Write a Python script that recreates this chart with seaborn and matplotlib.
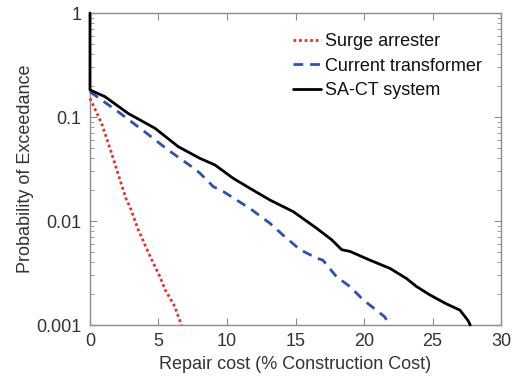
import matplotlib
matplotlib.use("Agg")
import matplotlib.pyplot as plt
import matplotlib.ticker as mticker
import numpy as np
import pandas as pd
import seaborn as sns

# Exceedance curves: repair cost (% construction cost) vs probability
sa_cost = [0.0, 0.85, 1.58, 2.19, 2.67, 2.92, 3.53, 4.38, 5.11, 5.47, 6.2, 6.45, 6.69]
sa_prob = [0.151, 0.087, 0.0447, 0.0248, 0.0159, 0.0137, 0.0082, 0.0046, 0.0029, 0.0022, 0.0015, 0.0012, 0.001]

ct_cost = [0.0, 2.07, 4.0, 5.72, 7.42, 8.03, 9.0, 9.73, 11.68, 12.65, 13.14, 14.1, 15.33,
           16.55, 17.0, 18.0, 18.98, 19.95, 20.9, 21.5, 21.9]
ct_prob = [0.175, 0.112, 0.072, 0.048, 0.0333, 0.0288, 0.0214, 0.0192, 0.0132, 0.0106, 0.0095,
           0.0073, 0.0053, 0.0044, 0.0042, 0.0029, 0.00234, 0.00174, 0.00139, 0.0012, 0.001]

sys_cost = [0.0, 0.0, 1.09, 2.8, 4.74, 6.45, 8.03, 9.12, 10.46, 11.68, 13.14, 14.84, 16.55,
            17.64, 18.37, 18.98, 20.44, 21.9, 23.1, 23.84, 24.8, 26.0, 27.0, 27.6, 27.75]
sys_prob = [1.0, 0.182, 0.157, 0.108, 0.078, 0.0518, 0.040, 0.0346, 0.0257, 0.0206, 0.0159,
            0.0123, 0.0085, 0.0066, 0.0053, 0.0051, 0.0042, 0.0035, 0.0028, 0.00234, 0.00195,
            0.0016, 0.00139, 0.0011, 0.001]

labels = ["Surge arrester", "Current transformer", "SA-CT system"]

sns.set_style("ticks")
plt.rcParams["font.family"] = ["Liberation Sans", "DejaVu Sans"]

fig = plt.figure(figsize=(5.16, 3.85), dpi=100)
ax = fig.add_axes([0.1744, 0.1558, 0.7966, 0.8104])

spine_col = "#8c8c8c"
text_col = "#333333"

series = [
    (sa_cost, sa_prob, labels[0], "#e8302a", (0, (1, 1))),
    (ct_cost, ct_prob, labels[1], "#2f4fb8", (0, (3.5, 2.5))),
    (sys_cost, sys_prob, labels[2], "#000000", "-"),
]
for cost, prob, name, col, ls in series:
    df = pd.DataFrame({"cost": cost, "prob": prob})
    sns.lineplot(data=df, x="cost", y="prob", estimator=None, sort=False,
                 color=col, linewidth=2.0, label=name, ax=ax, linestyle=ls)

# keep the curves drawn over the axis frame (vertical drop at zero cost)
for ln in ax.lines:
    ln.set_zorder(3)
    ln.set_clip_on(False)

ax.set_yscale("log")
ax.set_xlim(0, 30)
ax.set_ylim(0.001, 1)
ax.set_xticks([0, 5, 10, 15, 20, 25, 30])
ax.set_yticks([0.001, 0.01, 0.1, 1])
ax.yaxis.set_major_formatter(mticker.FixedFormatter(["0.001", "0.01", "0.1", "1"]))
ax.yaxis.set_minor_locator(mticker.LogLocator(base=10, subs=np.arange(2, 10)))
ax.yaxis.set_minor_formatter(mticker.NullFormatter())

for s in ax.spines.values():
    s.set_visible(True)
    s.set_color(spine_col)
    s.set_linewidth(1.0)
ax.tick_params(which="both", direction="in", top=True, right=True, color=spine_col,
               labelcolor=text_col, labelsize=13, pad=6)
ax.tick_params(which="major", length=5)
ax.tick_params(which="minor", length=3)

ax.set_xlabel("Repair cost (% Construction Cost)", fontsize=13, color=text_col, labelpad=4)
ax.set_ylabel("Probability of Exceedance", fontsize=13, color=text_col, labelpad=2)

leg = ax.legend(loc="upper right", frameon=False, fontsize=13, handlelength=1.55,
                handletextpad=0.22, labelspacing=0.4, borderaxespad=0.3,
                bbox_to_anchor=(0.985, 0.975))
for t in leg.get_texts():
    t.set_color("#111111")

fig.savefig("out.png", dpi=100)
